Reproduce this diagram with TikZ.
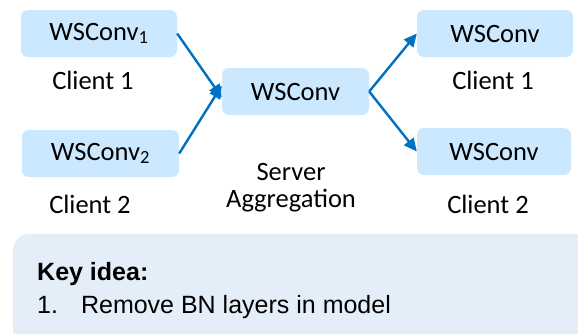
\documentclass[tikz,border=0pt]{standalone}
\usepackage{fontspec}
\setmainfont{Carlito}
\newfontfamily\arialfont{Liberation Sans}
\usetikzlibrary{arrows.meta}
\definecolor{boxblue}{RGB}{204,232,255}
\definecolor{arrowblue}{RGB}{0,112,192}
\definecolor{keyblue}{RGB}{228,238,248}
\tikzset{
  convbox/.style={fill=boxblue, rounded corners=7pt, inner sep=0pt, font=\fontsize{26.5}{30}\selectfont},
  lbl/.style={inner sep=0pt, font=\fontsize{26.5}{30}\selectfont, align=center},
  flow/.style={draw=arrowblue, line width=2.4pt, -{Triangle[length=13pt,width=12pt]}}
}
\begin{document}
\begin{tikzpicture}[x=1pt,y=-1pt]
\useasboundingbox (0,0) rectangle (578,333);
% key idea panel
\fill[keyblue, rounded corners=16pt] (13,234) rectangle (600,360);
\node[anchor=base west, inner sep=0pt, font=\arialfont\bfseries\fontsize{25}{29}\selectfont] (key) at (37,280) {Key idea:};
\node[anchor=base west, inner sep=0pt, font=\arialfont\fontsize{25}{29}\selectfont] (item) at (37,313) {1.\hspace{23pt}Remove BN layers in model};
% boxes
\node[convbox, minimum width=156pt, minimum height=47pt] (c1) at (99,33.5) {WSConv\textsubscript{1}};
\node[convbox, minimum width=157pt, minimum height=47pt] (c2) at (100.5,153.5) {WSConv\textsubscript{2}};
\node[convbox, minimum width=147pt, minimum height=47pt] (s) at (295.5,91.5) {WSConv};
\node[convbox, minimum width=156pt, minimum height=47pt] (r1) at (495,33.5) {WSConv};
\node[convbox, minimum width=154pt, minimum height=47pt] (r2) at (494,151.5) {WSConv};
% labels
\node[lbl] (l1) at (93,80) {Client 1};
\node[lbl] (l2) at (90,204) {Client 2};
\node[lbl] (ls) at (291,188) {Server\\[-3pt]Aggregation};
\node[lbl] (lr1) at (493,80) {Client 1};
\node[lbl] (lr2) at (488,204) {Client 2};
% arrows
\draw[flow] (c1.east) -- ([yshift=-6pt]s.west);
\draw[flow] (c2.east) -- ([yshift=6pt]s.west);
\draw[flow] (s.east) -- (r1.west);
\draw[flow] (s.east) -- (r2.west);
\end{tikzpicture}
\end{document}
